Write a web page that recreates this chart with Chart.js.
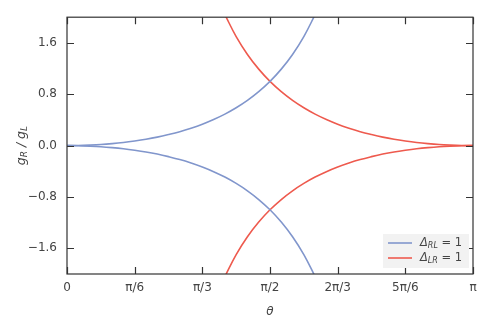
<!DOCTYPE html>
<html>
<head>
<meta charset="utf-8">
<script src="https://cdn.jsdelivr.net/npm/chart.js@4"></script>
<style>
  html, body { margin: 0; padding: 0; background: #fff; }
</style>
</head>
<body>
<canvas id="chart" width="494" height="333"></canvas>
<script>
// theta in degrees (0..180 maps to 0..pi)
const thetaRL = [0, 5, 10, 15, 20, 25, 30, 35, 40, 45, 50, 55, 60, 65, 70, 75, 80, 85, 90, 95, 100, 105, 110];
const gRL = [0, 0.002, 0.008, 0.017, 0.031, 0.049, 0.072, 0.099, 0.132, 0.172, 0.217, 0.271, 0.333, 0.406, 0.490, 0.589, 0.704, 0.840, 1.000, 1.191, 1.420, 1.698, 2.040];
const thetaLR = [70, 75, 80, 85, 90, 95, 100, 105, 110, 115, 120, 125, 130, 135, 140, 145, 150, 155, 160, 165, 170, 175, 180];
const gLR = [2.040, 1.698, 1.420, 1.191, 1.000, 0.840, 0.704, 0.589, 0.490, 0.406, 0.333, 0.271, 0.217, 0.172, 0.132, 0.099, 0.072, 0.049, 0.031, 0.017, 0.008, 0.002, 0];

const xTickValues = [0, 30, 60, 90, 120, 150, 180];
const xTickLabels = ["0", "π/6", "π/3", "π/2", "2π/3", "5π/6", "π"];
const yTickValues = [-1.6, -0.8, 0, 0.8, 1.6];

const blue = "#8196cc";
const red = "#ee5a4e";
const textColor = "#444444";
const frameColor = "#333333";

const pts = (xs, ys, sign) => xs.map((x, i) => ({ x: x, y: sign * ys[i] }));

const lineSet = (data, color) => ({
  data: data,
  borderColor: color,
  borderWidth: 1.6,
  pointRadius: 0,
  fill: false,
  tension: 0.4,
});

// frame on all four sides, inward ticks, y label and legend
const decor = {
  id: "decor",
  afterDraw(chart) {
    const ctx = chart.ctx;
    const a = chart.chartArea;
    const xs = chart.scales.x;
    const ys = chart.scales.y;
    const tl = 7;
    ctx.save();
    ctx.strokeStyle = frameColor;
    ctx.lineWidth = 1.2;
    ctx.strokeRect(a.left, a.top, a.right - a.left, a.bottom - a.top);
    ctx.beginPath();
    xTickValues.forEach((v) => {
      const px = Math.round(xs.getPixelForValue(v)) + 0.5;
      ctx.moveTo(px, a.bottom);
      ctx.lineTo(px, a.bottom - tl);
      ctx.moveTo(px, a.top);
      ctx.lineTo(px, a.top + tl);
    });
    yTickValues.forEach((v) => {
      const py = Math.round(ys.getPixelForValue(v)) + 0.5;
      ctx.moveTo(a.left, py);
      ctx.lineTo(a.left + tl, py);
      ctx.moveTo(a.right, py);
      ctx.lineTo(a.right - tl, py);
    });
    ctx.stroke();

    // y axis label  g_R / g_L
    ctx.translate(22, (a.top + a.bottom) / 2);
    ctx.rotate(-Math.PI / 2);
    ctx.fillStyle = textColor;
    ctx.textBaseline = "middle";
    const big = "italic 12.5px 'DejaVu Sans'";
    const small = "italic 9px 'DejaVu Sans'";
    const parts = [
      ["g", big, 0], ["R", small, 3], [" / ", big, 0], ["g", big, 0], ["L", small, 3],
    ];
    let w = 0;
    parts.forEach((p) => { ctx.font = p[1]; w += ctx.measureText(p[0]).width; });
    let x = -w / 2;
    parts.forEach((p) => {
      ctx.font = p[1];
      ctx.fillText(p[0], x, p[2]);
      x += ctx.measureText(p[0]).width;
    });
    ctx.restore();

    // legend
    ctx.save();
    const lx = 383, ly = 234, lw = 86, lh = 34;
    ctx.fillStyle = "#f2f2f2";
    ctx.fillRect(lx, ly, lw, lh);
    const entries = [["RL", blue], ["LR", red]];
    entries.forEach((e, i) => {
      const y = ly + 9 + i * 15;
      ctx.strokeStyle = e[1];
      ctx.lineWidth = 1.6;
      ctx.beginPath();
      ctx.moveTo(lx + 5, y);
      ctx.lineTo(lx + 29, y);
      ctx.stroke();
      ctx.fillStyle = textColor;
      ctx.textBaseline = "middle";
      let tx = lx + 37;
      ctx.font = "italic 11.5px 'DejaVu Sans'";
      ctx.fillText("Δ", tx, y);
      tx += ctx.measureText("Δ").width;
      ctx.font = "italic 8px 'DejaVu Sans'";
      ctx.fillText(e[0], tx, y + 3);
      tx += ctx.measureText(e[0]).width;
      ctx.font = "11.5px 'DejaVu Sans'";
      ctx.fillText(" = 1", tx, y);
    });
    ctx.restore();
  },
};

new Chart(document.getElementById("chart").getContext("2d"), {
  type: "line",
  data: {
    datasets: [
      lineSet(pts(thetaRL, gRL, 1), blue),
      lineSet(pts(thetaRL, gRL, -1), blue),
      lineSet(pts(thetaLR, gLR, 1), red),
      lineSet(pts(thetaLR, gLR, -1), red),
    ],
  },
  options: {
    responsive: false,
    animation: false,
    devicePixelRatio: 1,
    layout: { padding: { left: 0, right: 21, top: 15, bottom: 0 } },
    plugins: {
      legend: { display: false },
      tooltip: { enabled: false },
    },
    scales: {
      x: {
        type: "linear",
        min: 0,
        max: 180,
        afterBuildTicks: (scale) => {
          scale.ticks = xTickValues.map((v) => ({ value: v }));
        },
        afterFit: (scale) => { scale.height = 59; },
        grid: { display: false, drawTicks: false },
        border: { display: false },
        ticks: {
          padding: 7,
          color: textColor,
          font: { family: "'DejaVu Sans'", size: 12 },
          maxRotation: 0,
          callback: (v) => xTickLabels[xTickValues.indexOf(v)],
        },
        title: {
          display: true,
          text: "θ",
          color: textColor,
          font: { family: "'DejaVu Sans'", size: 12, style: "italic" },
          padding: { top: 0, bottom: 14 },
        },
      },
      y: {
        type: "linear",
        min: -2,
        max: 2,
        afterBuildTicks: (scale) => {
          scale.ticks = yTickValues.map((v) => ({ value: v }));
        },
        afterFit: (scale) => { scale.width = 67; },
        grid: { display: false, drawTicks: false },
        border: { display: false },
        ticks: {
          padding: 10,
          color: textColor,
          font: { family: "'DejaVu Sans'", size: 12 },
          callback: (v) => v.toFixed(1).replace("-", "−"),
        },
      },
    },
  },
  plugins: [decor],
});
</script>
</body>
</html>
